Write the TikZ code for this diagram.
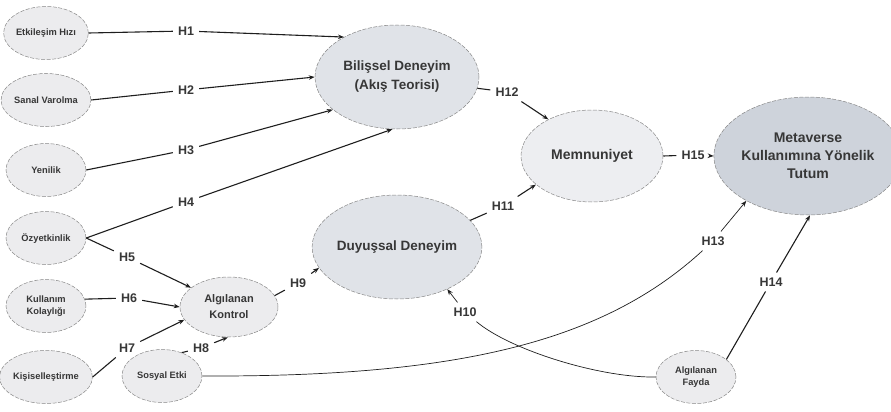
\documentclass[tikz,border=0pt]{standalone}
\usepackage{fontspec}
\setmainfont{Liberation Sans}
\usetikzlibrary{arrows.meta,shapes.geometric}
\definecolor{smallfill}{RGB}{236,236,238}
\definecolor{bigfill}{RGB}{224,227,232}
\definecolor{memfill}{RGB}{237,238,241}
\definecolor{metfill}{RGB}{206,211,219}
\definecolor{bordergray}{RGB}{135,135,135}
\definecolor{txt}{RGB}{55,55,55}
\definecolor{ln}{RGB}{30,30,30}
\begin{document}
\begin{tikzpicture}[x=1pt,y=-1pt,
  ell/.style={ellipse, draw=bordergray, line width=0.5pt, dash pattern=on 4pt off 1.5pt,
              inner sep=0pt, text=txt, align=center},
  smallnode/.style={ell, fill=smallfill, minimum width=80pt, minimum height=53pt,
              font=\fontsize{9.3}{11.5}\selectfont\bfseries},
  midnode/.style={ell, fill=smallfill, minimum width=98pt, minimum height=60pt,
              font=\fontsize{11}{16}\selectfont\bfseries},
  bignode/.style={ell, fill=bigfill, minimum width=164pt, minimum height=104pt,
              font=\fontsize{13.5}{19}\selectfont\bfseries},
  hyp/.style={text=txt, font=\fontsize{12.5}{14}\selectfont\bfseries, inner sep=5pt},
  conn/.style={draw=ln, line width=1.1pt, -{Stealth[length=6pt,width=4.5pt]}},
  thinconn/.style={draw=ln, line width=0.7pt, -{Stealth[length=6pt,width=4.5pt]}},
]
\useasboundingbox (0,0) rectangle (891,412);

% nodes
\node[smallnode] (Etk) at (46,33) {Etkileşim Hızı};
\node[smallnode] (San) at (46,100) {Sanal Varolma};
\node[smallnode] (Yen) at (46,170) {Yenilik};
\node[smallnode] (Ozy) at (46,238) {Özyetkinlik};
\node[smallnode] (Kul) at (46,306) {Kullanım\\Kolaylığı};
\node[smallnode] (Kis) at (46,377) {Kişiselleştirme};
\node[smallnode] (Sos) at (162,376) {Sosyal Etki};
\node[smallnode] (Fay) at (696,377) {Algılanan\\Fayda};
\node[midnode] (AK) at (229,307) {Algılanan\\Kontrol};
\node[bignode] (Bil) at (397,77) {Bilişsel Deneyim\\(Akış Teorisi)};
\node[bignode] (Duy) at (397,247) {Duyuşsal Deneyim};
\node[bignode, fill=memfill, minimum width=142pt, minimum height=92pt,
      font=\fontsize{14}{19}\selectfont\bfseries] (Mem) at (592,156) {Memnuniyet};
\node[bignode, fill=metfill, minimum width=162pt, minimum height=118pt,
      font=\fontsize{14}{18}\selectfont\bfseries] (Met) at (808,156) {Metaverse\\Kullanımına Yönelik\\Tutum};

% hypothesis labels
\node[hyp] (H1) at (186,31) {H1};
\node[hyp] (H2) at (186,90) {H2};
\node[hyp] (H3) at (186,150) {H3};
\node[hyp] (H4) at (186,202) {H4};
\node[hyp] (H5) at (127,257) {H5};
\node[hyp] (H6) at (129,298) {H6};
\node[hyp] (H7) at (127,348) {H7};
\node[hyp] (H8) at (201,348) {H8};
\node[hyp] (H9) at (298,283) {H9};
\node[hyp] (H10) at (465,312) {H10};
\node[hyp] (H11) at (503,206) {H11};
\node[hyp] (H12) at (507,92) {H12};
\node[hyp] (H13) at (713,241) {H13};
\node[hyp] (H14) at (771,282) {H14};
\node[hyp] (H15) at (693,155) {H15};

% connectors
\draw[conn] (Etk.east) -- (H1) -- (Bil.143);
\draw[conn] (San.east) -- (H2) -- (Bil.180);
\draw[conn] (Yen.east) -- (H3) -- (Bil.207);
\draw[conn] (Ozy.east) -- (H4) -- (Bil.265);
\draw[conn] (Ozy.east) -- (H5) -- (AK.153);
\draw[conn] (Kul.10) -- (H6) -- (AK.180);
\draw[conn] (Kis.east) -- (H7) -- (AK.196);
\draw[conn] (Sos.50) -- (H8) -- (AK.268);
\draw[conn] (AK.14) -- (H9) -- (Duy.195);
\draw[conn] (Duy.20) -- (H11) -- (Mem.207);
\draw[conn] (Bil.-8) -- (H12) -- (Mem.140);
\draw[conn] (Mem.east) -- (H15) -- (Met.west);
\draw[conn] (Fay.30) -- (H14) -- (Met.272);
\draw[thinconn] (Fay.west) .. controls (600,378) and (510,350) .. (H10) -- (Duy.-40);
\draw[thinconn] (Sos.east) .. controls (450,377) and (600,345) .. (H13) -- (Met.216);
\end{tikzpicture}
\end{document}
